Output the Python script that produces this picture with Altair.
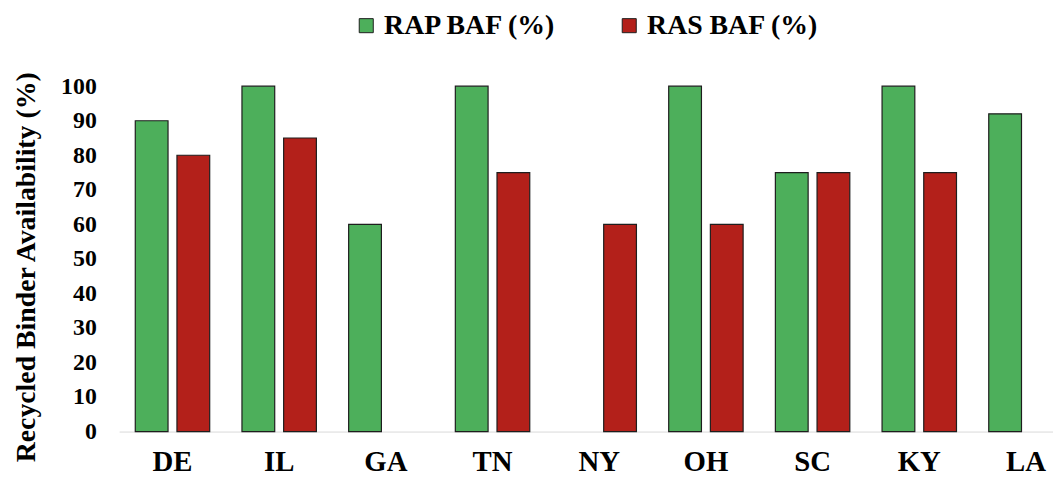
import altair as alt
import pandas as pd

states = ["DE", "IL", "GA", "TN", "NY", "OH", "SC", "KY", "LA"]
rap_baf = [90, 100, 60, 100, None, 100, 75, 100, 92]
ras_baf = [80, 85, None, 75, 60, 60, 75, 75, None]
series = ["RAP BAF (%)", "RAS BAF (%)"]
colors = ["#4DAF5B", "#B3201A"]
y_ticks = [0, 10, 20, 30, 40, 50, 60, 70, 80, 90, 100]

rows = []
for st, a, b in zip(states, rap_baf, ras_baf):
    if a is not None:
        rows.append({"State": st, "Series": series[0], "Value": a})
    if b is not None:
        rows.append({"State": st, "Series": series[1], "Value": b})
df = pd.DataFrame(rows)

FONT = "Liberation Serif"

chart = (
    alt.Chart(df)
    .mark_bar(stroke="#1e1e1e", strokeWidth=1.2)
    .encode(
        x=alt.X(
            "State:N",
            sort=states,
            scale=alt.Scale(domain=states, range=[2, 969.5], paddingInner=0, paddingOuter=0),
            axis=alt.Axis(
                title=None, labelAngle=0, labelFont=FONT, labelFontSize=29,
                labelFontWeight="bold", labelColor="black", labelPadding=16,
                ticks=False, domainColor="#d9d9d9", domainWidth=1, grid=False,
            ),
        ),
        xOffset=alt.XOffset(
            "Series:N",
            scale=alt.Scale(domain=series, paddingInner=0.214, paddingOuter=0.387),
        ),
        y=alt.Y(
            "Value:Q",
            scale=alt.Scale(domain=[0, 100], nice=False),
            axis=alt.Axis(
                values=y_ticks, title="Recycled Binder Availability (%)",
                titleFont=FONT, titleFontSize=28, titleFontWeight="bold", titleColor="black",
                titleAngle=270, titleX=-91, titleY=182, titleAlign="center", titleBaseline="middle",
                titleLimit=0,
                labelFont=FONT, labelFontSize=24, labelFontWeight="bold", labelColor="black",
                labelPadding=21, ticks=False, domain=False, grid=False,
            ),
        ),
        color=alt.Color(
            "Series:N",
            scale=alt.Scale(domain=series, range=colors),
            legend=alt.Legend(
                title=None, orient="none", direction="horizontal", legendX=237, legendY=-75,
                labelFont=FONT, labelFontSize=28, labelFontWeight="bold", labelColor="black",
                labelLimit=0,
                symbolType="square", symbolSize=200, symbolStrokeColor="#1e1e1e",
                symbolStrokeWidth=1, labelOffset=4, columnPadding=58,
            ),
        ),
    )
    .properties(
        width=943, height=348,
        autosize=alt.AutoSizeParams(type="none"),
        padding={"left": 110, "top": 77, "right": 0, "bottom": 47},
    )
    .configure_view(stroke=None)
)

chart.save("out.html", embed_options={"renderer": "svg", "actions": False})
